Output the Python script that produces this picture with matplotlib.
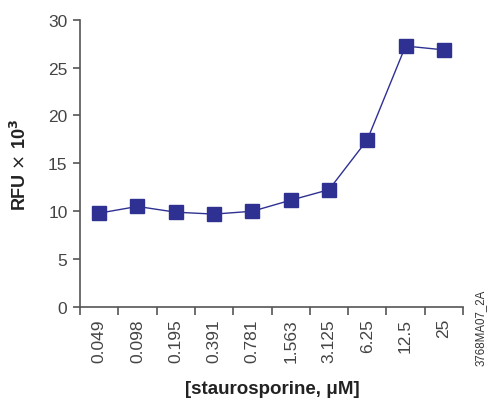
import matplotlib
matplotlib.use("Agg")
import matplotlib.pyplot as plt
from matplotlib import font_manager

categories = ["0.049", "0.098", "0.195", "0.391", "0.781", "1.563", "3.125", "6.25", "12.5", "25"]
rfu = [9.8, 10.5, 9.9, 9.7, 10.0, 11.15, 12.25, 17.45, 27.25, 26.85]
yticks = [0, 5, 10, 15, 20, 25, 30]

names = {f.name for f in font_manager.fontManager.ttflist}
narrow = "Liberation Sans Narrow" if "Liberation Sans Narrow" in names else "Liberation Sans"

fig = plt.figure(figsize=(4.88, 4.10), dpi=100)
ax = fig.add_axes([80/488, 1-308/410, (463-80)/488, (308-20.7)/410])

blue = "#2e3192"
x = list(range(len(categories)))
ax.plot(x, rfu, color=blue, lw=1.0, marker="s", markersize=9.5,
        markerfacecolor=blue, markeredgecolor=blue, clip_on=False, zorder=3)

ax.set_xlim(-0.5, len(categories) - 0.5)
ax.set_ylim(0, 30)
ax.set_yticks(yticks)
ax.set_yticklabels([str(v) for v in yticks])
ax.set_xticks(x)
ax.set_xticklabels(categories, rotation=90)
ax.set_xticks([i - 0.5 for i in range(len(categories) + 1)], minor=True)

gray = "#555555"
for s in ["top", "right"]:
    ax.spines[s].set_visible(False)
for s in ["left", "bottom"]:
    ax.spines[s].set_color(gray)
    ax.spines[s].set_linewidth(1.2)

ax.tick_params(axis="x", which="major", length=0, pad=8, labelsize=12.5, labelcolor="#444444")
ax.tick_params(axis="x", which="minor", length=6, width=1.2, color=gray, direction="out")
ax.tick_params(axis="y", length=5, width=1.2, color=gray, pad=4, labelsize=12.5, labelcolor="#444444")
for lab in ax.get_xticklabels() + ax.get_yticklabels():
    lab.set_family("Liberation Sans")

fig.text(20/488, 1-165/410, r"RFU $\times$ 10$^{\mathbf{3}}$", rotation=90, ha="center", va="center",
         fontsize=13, fontweight="bold", family=narrow, color="#222222")
fig.text(272/488, 1-390/410, "[staurosporine, μM]", ha="center", va="center",
         fontsize=13.5, fontweight="bold", family=narrow, color="#222222")
fig.text(481/488, 1-328/410, "3768MA07_2A", rotation=90, ha="center", va="center",
         fontsize=8.3, family="Liberation Sans", color="#333333")

fig.savefig("out.png", dpi=100)
